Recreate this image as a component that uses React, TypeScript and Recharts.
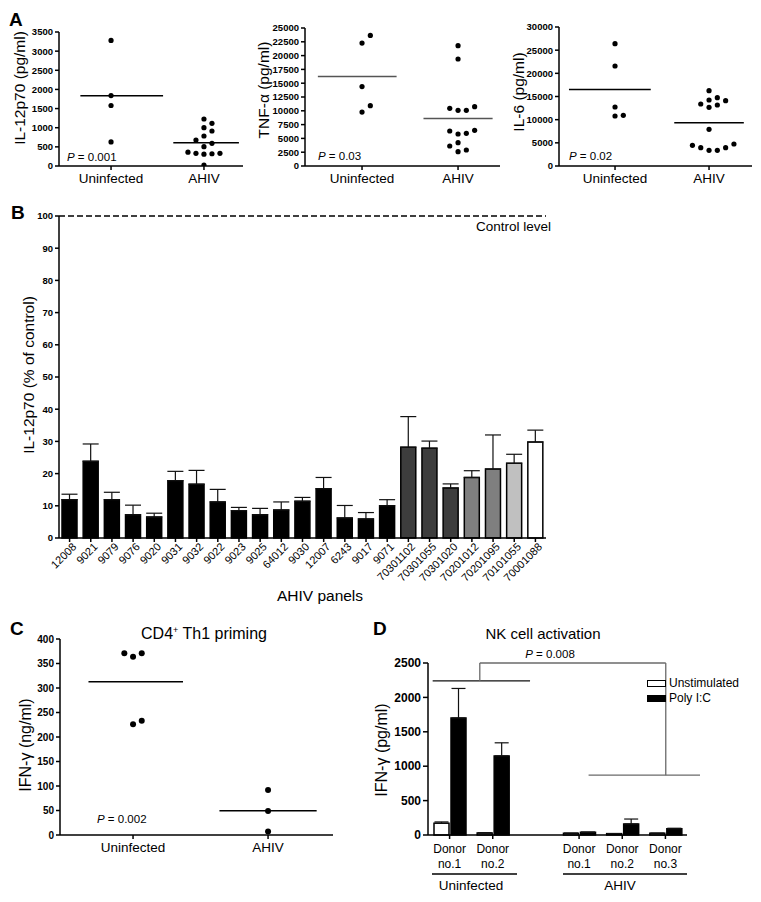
import React from 'react';
import {
  ScatterChart, Scatter, XAxis, YAxis, ReferenceLine, BarChart, Bar, Cell, ErrorBar, Legend,
} from 'recharts';

const FONT = '"Liberation Sans", Arial, Helvetica, sans-serif';

// ---------- Panel A data ----------
const groupNames = ['Uninfected', 'AHIV'];
const il12Uninfected = [3280, 1840, 1580, 630];
const il12AHIV = [1227, 1115, 1000, 914, 783, 679, 593, 505, 330, 320, 310, 330, 360, 26];
const tnfUninfected = [23660, 22270, 14380, 10920, 9770];
const tnfAHIV = [21800, 19380, 10750, 10090, 10090, 10450, 6340, 5800, 5920, 6460, 3620, 4230, 2600, 2900];
const il6Uninfected = [26400, 21580, 12730, 10790, 10930];
const il6AHIV = [16250, 14250, 14750, 13380, 12660, 13170, 14100, 7910, 4460, 3960, 3380, 3380, 3960, 4750];
const il12Ticks = [0, 500, 1000, 1500, 2000, 2500, 3000, 3500];
const tnfTicks = [0, 2500, 5000, 7500, 10000, 12500, 15000, 17500, 20000, 22500, 25000];
const il6Ticks = [0, 5000, 10000, 15000, 20000, 25000, 30000];

// ---------- Panel B data ----------
const bPanels = ['12008', '9021', '9079', '9076', '9020', '9031', '9032', '9022', '9023', '9025', '64012', '9030',
  '12007', '6243', '9017', '9071', '70301102', '70301055', '70301020', '70201012', '70201095', '70101055', '70001088'];
const bMeans = [11.9, 23.8, 11.9, 7.2, 6.5, 17.8, 16.7, 11.2, 8.5, 7.2, 8.7, 11.4, 15.3, 6.2, 5.9, 10.0,
  28.2, 27.9, 15.5, 18.8, 21.4, 23.2, 29.8];
const bErrors = [1.7, 5.4, 2.3, 3.0, 1.2, 2.9, 4.3, 3.9, 1.0, 2.0, 2.5, 1.2, 3.5, 3.9, 2.0, 1.9,
  9.5, 2.2, 1.3, 2.1, 10.6, 2.8, 3.7];
const bCohort = [0, 0, 0, 0, 0, 0, 0, 0, 0, 0, 0, 0, 0, 0, 0, 0, 1, 1, 1, 2, 2, 3, 4];
const cohortColors = ['#000000', '#3d3d3d', '#7f7f7f', '#c0c0c0', '#ffffff'];
const bTicks = [0, 10, 20, 30, 40, 50, 60, 70, 80, 90, 100];

// ---------- Panel C data ----------
const ifnUninfected = [371, 364, 371, 226, 233];
const ifnAHIV = [92, 49, 7];
const cTicks = [0, 50, 100, 150, 200, 250, 300, 350, 400];

// ---------- Panel D data ----------
const dDonors: (string[] | null)[] = [['Donor', 'no.1'], ['Donor', 'no.2'], null, ['Donor', 'no.1'], ['Donor', 'no.2'], ['Donor', 'no.3']];
const dUnstim: (number | null)[] = [170, 30, null, 25, 20, 25];
const dUnstimErr: (number | null)[] = [20, 0, null, 0, 0, 0];
const dPoly: (number | null)[] = [1700, 1150, null, 40, 160, 90];
const dPolyErr: (number | null)[] = [430, 190, null, 0, 72, 8];
const dTicks = [0, 500, 1000, 1500, 2000, 2500];
const dSeriesOrder = ['Unstimulated', 'Poly I:C'];
// significance bracket (x in category-band units, y in pg/ml)
const dBracket = [
  { x1: 0.09, x2: 1.97, y1: 2240, y2: 2240, c: '#111' },
  { x1: 1.0, x2: 1.0, y1: 2240, y2: 2500, c: '#6a6a6a' },
  { x1: 1.0, x2: 4.59, y1: 2500, y2: 2500, c: '#6a6a6a' },
  { x1: 4.59, x2: 4.59, y1: 2500, y2: 870, c: '#6a6a6a' },
  { x1: 3.1, x2: 5.95, y1: 870, y2: 870, c: '#6a6a6a' },
];

// ---------- helpers ----------
function swarmOffsets(values: number[], pxPerY: number, pxPerX: number, stepPx: number, minGapPx: number): number[] {
  const order = values.map((_, i) => i).sort((a, b) => values[a] - values[b] || a - b);
  const placed: { k: number; py: number }[] = [];
  const out = values.map(() => 0);
  order.forEach((i) => {
    const py = values[i] * pxPerY;
    for (let n = 0; n < 30; n++) {
      const k = n === 0 ? 0 : n % 2 === 1 ? (n + 1) / 2 : -n / 2;
      if (!placed.some((p) => p.k === k && Math.abs(p.py - py) < minGapPx)) {
        placed.push({ k, py });
        out[i] = (k * stepPx) / pxPerX;
        break;
      }
    }
  });
  return out;
}
const mean = (a: number[]) => a.reduce((s, v) => s + v, 0) / a.length;

const axisStyle = { stroke: '#000', strokeWidth: 1.5 };

type DotSpec = {
  left: number; top: number; width: number; height: number;
  yAxisWidth: number; marginTop: number; marginRight: number; xAxisHeight: number;
  domainX: [number, number]; yMax: number; yTicks: number[];
  uninf: number[]; ahiv: number[];
  lineExt: [number, number][]; lineColor: string; tickFont: number; dotR: number; step: number; gap: number;
};

function DotPlot(s: DotSpec) {
  const plotH = s.height - s.marginTop - s.xAxisHeight;
  const plotW = s.width - s.yAxisWidth - s.marginRight;
  const pxPerY = plotH / s.yMax;
  const pxPerX = plotW / (s.domainX[1] - s.domainX[0]);
  const groups = [s.uninf, s.ahiv];
  const datas = groups.map((vals, g) => {
    const offs = swarmOffsets(vals, pxPerY, pxPerX, s.step, s.gap);
    return vals.map((v, i) => ({ x: g + 1 + offs[i], y: v }));
  });
  const dot = (p: any) => <circle cx={p.cx} cy={p.cy} r={s.dotR} fill="#000" />;
  return (
    <div style={{ position: 'absolute', left: s.left, top: s.top }}>
      <ScatterChart width={s.width} height={s.height} margin={{ top: s.marginTop, right: s.marginRight, left: 0, bottom: 0 }}>
        <XAxis type="number" dataKey="x" domain={s.domainX} allowDataOverflow ticks={[1, 2]} interval={0}
          tickFormatter={(v: number) => groupNames[Math.round(v) - 1]} height={s.xAxisHeight}
          axisLine={axisStyle} tickLine={axisStyle} tickSize={4} tickMargin={3}
          tick={{ fill: '#000', fontSize: 13.5, fontFamily: FONT }} />
        <YAxis type="number" dataKey="y" domain={[0, s.yMax]} allowDataOverflow ticks={s.yTicks} interval={0}
          width={s.yAxisWidth} axisLine={axisStyle} tickLine={axisStyle} tickSize={4} tickMargin={2}
          tick={{ fill: '#000', fontSize: s.tickFont, fontWeight: 700, fontFamily: FONT }} />
        {groups.map((vals, g) => (
          <ReferenceLine key={'m' + g} segment={[{ x: g + 1 + s.lineExt[g][0], y: mean(vals) }, { x: g + 1 + s.lineExt[g][1], y: mean(vals) }]}
            stroke={s.lineColor} strokeWidth={1.5} />
        ))}
        <Scatter name="Uninfected" data={datas[0]} shape={dot} isAnimationActive={false} />
        <Scatter name="AHIV" data={datas[1]} shape={dot} isAnimationActive={false} />
      </ScatterChart>
    </div>
  );
}

const BTick = (props: any) => {
  const { x, y, payload } = props;
  return (
    <g transform={`translate(${x + 2},${y})`}>
      <text x={0} y={0} dy="0.71em" textAnchor="end" transform="rotate(-45)" fontSize={11} fill="#000" fontFamily={FONT}>
        {payload.value}
      </text>
    </g>
  );
};

const DTick = (props: any) => {
  const { x, y, index } = props;
  const lbl = dDonors[index];
  if (!lbl) return null;
  return (
    <g>
      <line x1={x} x2={x} y1={y - 4} y2={y} stroke="#000" strokeWidth={1.5} />
      <text x={x} y={y + 14} textAnchor="middle" fontSize={12} fill="#000" fontFamily={FONT}>{lbl[0]}</text>
      <text x={x} y={y + 29} textAnchor="middle" fontSize={12} fill="#000" fontFamily={FONT}>{lbl[1]}</text>
    </g>
  );
};

const DLegend = (props: any) => {
  const payload = [...(props.payload || [])].sort(
    (a: any, b: any) => dSeriesOrder.indexOf(a.value) - dSeriesOrder.indexOf(b.value));
  return (
    <div style={{ fontFamily: FONT, fontSize: 12, color: '#000' }}>
      {payload.map((p: any, i: number) => (
        <div key={i} style={{ display: 'flex', alignItems: 'center', height: 15 }}>
          <span style={{ display: 'inline-block', width: 19, height: 7, boxSizing: 'border-box', border: '1.5px solid #000', background: p.color, marginRight: 3 }} />
          <span>{p.value}</span>
        </div>
      ))}
    </div>
  );
};

const VText = ({ x, y, size, children }: any) => (
  <text transform={`translate(${x},${y}) rotate(-90)`} textAnchor="middle" dominantBaseline="central" fontSize={size} fill="#000">
    {children}
  </text>
);

export default function App() {
  const bData = bPanels.map((name, i) => ({ name, value: bMeans[i], err: [0, bErrors[i]], cohort: bCohort[i] }));
  const dData = dDonors.map((_, i) => ({
    key: 'd' + i,
    unstim: dUnstim[i],
    unstimErr: dUnstim[i] == null ? null : [0, dUnstimErr[i] as number],
    poly: dPoly[i],
    polyErr: dPoly[i] == null ? null : [0, dPolyErr[i] as number],
  }));

  return (
    <div style={{ position: 'absolute', left: 0, top: 0, width: 761, height: 902, background: '#fff', fontFamily: FONT, overflow: 'hidden' }}>
      <DotPlot left={0} top={0} width={250} height={200} yAxisWidth={59} marginTop={32} marginRight={7} xAxisHeight={34}
        domainX={[0.44, 2.42]} yMax={3500} yTicks={il12Ticks} uninf={il12Uninfected} ahiv={il12AHIV}
        lineExt={[[-0.33, 0.56], [-0.33, 0.376]]} lineColor="#000" tickFont={9.5} dotR={2.6} step={8} gap={7} />
      <DotPlot left={250} top={0} width={255} height={200} yAxisWidth={55} marginTop={28} marginRight={5} xAxisHeight={34}
        domainX={[0.406, 2.437]} yMax={25000} yTicks={tnfTicks} uninf={tnfUninfected} ahiv={tnfAHIV}
        lineExt={[[-0.46, 0.36], [-0.36, 0.36]]} lineColor="#555" tickFont={9.5} dotR={2.6} step={8.3} gap={8} />
      <DotPlot left={500} top={0} width={257} height={200} yAxisWidth={59} marginTop={27} marginRight={5} xAxisHeight={34}
        domainX={[0.404, 2.457]} yMax={30000} yTicks={il6Ticks} uninf={il6Uninfected} ahiv={il6AHIV}
        lineExt={[[-0.49, 0.38], [-0.37, 0.37]]} lineColor="#000" tickFont={9.5} dotR={2.6} step={8.3} gap={7} />

      {/* Panel B */}
      <div style={{ position: 'absolute', left: 0, top: 180 }}>
        <BarChart width={560} height={440} data={bData} margin={{ top: 36, right: 14, left: 0, bottom: 0 }} barSize={15}>
          <XAxis dataKey="name" interval={0} height={82} tick={<BTick />} tickSize={4} tickMargin={0}
            axisLine={axisStyle} tickLine={axisStyle} />
          <YAxis domain={[0, 100]} ticks={bTicks} interval={0} width={59} axisLine={axisStyle} tickLine={axisStyle}
            tickSize={4} tickMargin={2} tick={{ fill: '#000', fontSize: 9.5, fontWeight: 700, fontFamily: FONT }} />
          <ReferenceLine y={100} stroke="#000" strokeWidth={1.5} strokeDasharray="6 3" />
          <Bar dataKey="value" stroke="#000" strokeWidth={1.5} isAnimationActive={false}>
            {bData.map((d, i) => <Cell key={i} fill={cohortColors[d.cohort]} />)}
            <ErrorBar dataKey="err" width={8} stroke="#111" strokeWidth={1.2} direction="y" />
          </Bar>
        </BarChart>
      </div>

      {/* Panel C */}
      <DotPlot left={0} top={600} width={340} height={260} yAxisWidth={60} marginTop={39} marginRight={7} xAxisHeight={25}
        domainX={[0.459, 2.481]} yMax={400} yTicks={cTicks} uninf={ifnUninfected} ahiv={ifnAHIV}
        lineExt={[[-0.33, 0.37], [-0.36, 0.36]]} lineColor="#000" tickFont={10} dotR={3} step={8.7} gap={7} />

      {/* Panel D */}
      <div style={{ position: 'absolute', left: 380, top: 600 }}>
        <BarChart width={320} height={300} data={dData} margin={{ top: 63, right: 13, left: 0, bottom: 0 }} barSize={15} barGap={2}>
          <XAxis dataKey="key" interval={0} height={65} tickSize={4} tickMargin={0} tickLine={false}
            tick={<DTick />} axisLine={axisStyle} />
          <XAxis xAxisId="n" type="number" domain={[0, 6]} allowDataOverflow hide />
          <YAxis domain={[0, 2500]} ticks={dTicks} interval={0} width={48} axisLine={axisStyle} tickLine={axisStyle}
            tickSize={5} tickMargin={2} tick={{ fill: '#000', fontSize: 12, fontWeight: 700, fontFamily: FONT }} />
          <Bar dataKey="unstim" name="Unstimulated" fill="#ffffff" stroke="#000" strokeWidth={1.5} isAnimationActive={false}>
            <ErrorBar dataKey="unstimErr" width={7} stroke="#111" strokeWidth={1.2} direction="y" />
          </Bar>
          <Bar dataKey="poly" name="Poly I:C" fill="#000000" stroke="#000" strokeWidth={1.5} isAnimationActive={false}>
            <ErrorBar dataKey="polyErr" width={7} stroke="#111" strokeWidth={1.2} direction="y" />
          </Bar>
          {dBracket.map((s, i) => (
            <ReferenceLine key={'br' + i} xAxisId="n" segment={[{ x: s.x1, y: s.y1 }, { x: s.x2, y: s.y2 }]}
              stroke={s.c} strokeWidth={1.3} ifOverflow="visible" />
          ))}
          <Legend layout="vertical" align="center" verticalAlign="middle" content={<DLegend />}
            wrapperStyle={{ left: 267, top: 75.5, width: 110, height: 30 }} />
        </BarChart>
      </div>

      {/* annotations */}
      <svg width={761} height={902} style={{ position: 'absolute', left: 0, top: 0, pointerEvents: 'none' }} fontFamily={FONT}>
        <text x={9} y={26} fontSize={19} fontWeight="bold">A</text>
        <text x={11} y={219} fontSize={19} fontWeight="bold">B</text>
        <text x={10} y={635} fontSize={19} fontWeight="bold">C</text>
        <text x={373} y={635} fontSize={19} fontWeight="bold">D</text>

        <VText x={19} y={88} size={15.5}>IL-12p70 (pg/ml)</VText>
        <VText x={263} y={90} size={15.5}>TNF-α (pg/ml)</VText>
        <VText x={518} y={92} size={15.5}>IL-6 (pg/ml)</VText>
        <VText x={28} y={375} size={15.5}>IL-12p70 (% of control)</VText>
        <VText x={25} y={745} size={16}>IFN-γ (ng/ml)</VText>
        <VText x={381} y={750} size={16}>IFN-γ (pg/ml)</VText>

        <text x={67} y={160.5} fontSize={11.5}><tspan fontStyle="italic">P</tspan> = 0.001</text>
        <text x={318} y={160} fontSize={11.5}><tspan fontStyle="italic">P</tspan> = 0.03</text>
        <text x={569} y={160} fontSize={11.5}><tspan fontStyle="italic">P</tspan> = 0.02</text>
        <text x={97} y={823} fontSize={11.5}><tspan fontStyle="italic">P</tspan> = 0.002</text>
        <text x={550} y={658} fontSize={11.5} textAnchor="middle"><tspan fontStyle="italic">P</tspan> = 0.008</text>

        <text x={551} y={231} fontSize={13.5} textAnchor="end">Control level</text>
        <text x={320} y={601} fontSize={15.5} textAnchor="middle">AHIV panels</text>

        <text x={204} y={639} fontSize={16} textAnchor="middle">CD4<tspan fontSize={9} dy={-6}>+</tspan><tspan dy={6}> Th1 priming</tspan></text>
        <text x={543} y={639} fontSize={15} textAnchor="middle">NK cell activation</text>

        <line x1={432} x2={517} y1={874} y2={874} stroke="#000" strokeWidth={1.5} />
        <line x1={563} x2={687} y1={874} y2={874} stroke="#000" strokeWidth={1.5} />
        <text x={471} y={890} fontSize={13.5} textAnchor="middle">Uninfected</text>
        <text x={620} y={890} fontSize={13.5} textAnchor="middle">AHIV</text>
      </svg>
    </div>
  );
}
